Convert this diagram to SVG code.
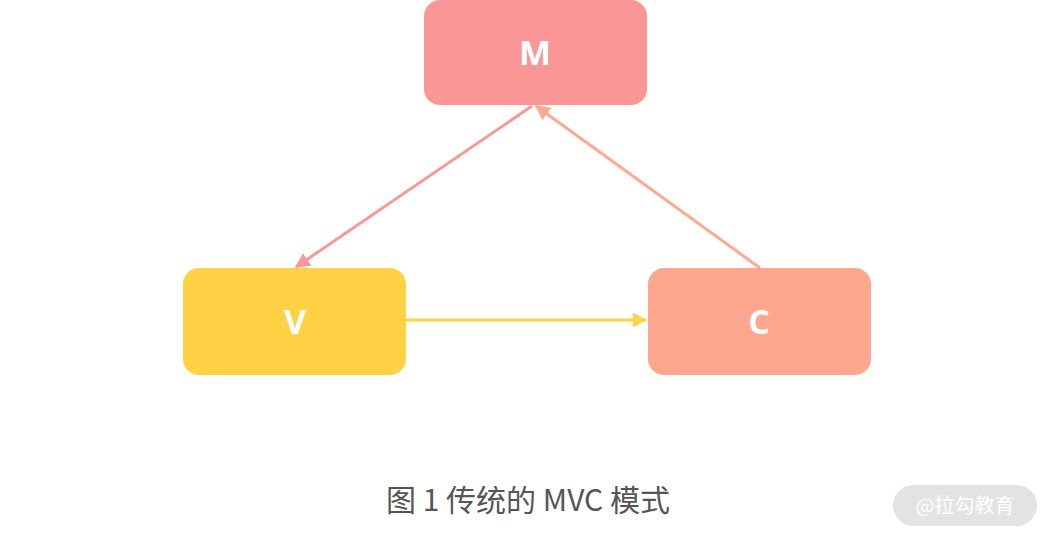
<svg xmlns="http://www.w3.org/2000/svg" width="1052" height="536" viewBox="0 0 1052 536">
<style>
.lbl{font-family:"Open Sans","Noto Sans",sans-serif;font-weight:bold;font-size:34px;fill:#fff;text-anchor:middle}
.cap{font-family:"Noto Sans CJK SC","Noto Sans",sans-serif;font-size:30px;fill:#555;text-anchor:middle}
.wm{font-family:"Noto Sans CJK SC",sans-serif;font-size:20px;fill:#fff;text-anchor:middle}
</style>
<defs>
<marker id="aM" viewBox="0 0 10 10" refX="9" refY="5" markerWidth="5" markerHeight="5" orient="auto" markerUnits="strokeWidth"><path d="M0,0L10,5L0,10z" fill="#fa9898"/></marker>
<marker id="aC" viewBox="0 0 10 10" refX="9" refY="5" markerWidth="5" markerHeight="5" orient="auto" markerUnits="strokeWidth"><path d="M0,0L10,5L0,10z" fill="#ffa990"/></marker>
<marker id="aV" viewBox="0 0 10 10" refX="9" refY="5" markerWidth="5" markerHeight="5" orient="auto" markerUnits="strokeWidth"><path d="M0,0L10,5L0,10z" fill="#ffd24a"/></marker>
</defs>
<rect width="1052" height="536" fill="#fff"/>
<g id="connectors" fill="none" stroke-width="3">
<line x1="532" y1="106" x2="296" y2="267" stroke="#fa9898" marker-end="url(#aM)"/>
<line x1="760" y1="268" x2="536" y2="106" stroke="#ffa990" marker-end="url(#aC)"/>
<line x1="406" y1="320" x2="646" y2="320" stroke="#ffd24a" marker-end="url(#aV)"/>
</g>
<g id="node-M"><rect x="424" y="0" width="223" height="105" rx="16" fill="#fb9697"/><text class="lbl" x="535" y="65">M</text></g>
<g id="node-V"><rect x="183" y="268" width="223" height="107" rx="16" fill="#ffd246"/><text class="lbl" x="295" y="334">V</text></g>
<g id="node-C"><rect x="648" y="268" width="223" height="107" rx="16" fill="#ffa68f"/><text class="lbl" x="759" y="334">C</text></g>
<g id="caption"><text class="cap" x="528" y="511">图 1 传统的 MVC 模式</text></g>
<g id="watermark"><rect x="893" y="485" width="144" height="41" rx="20.5" fill="#e3e3e3"/><text class="wm" x="965" y="513">@拉勾教育</text></g>
</svg>
